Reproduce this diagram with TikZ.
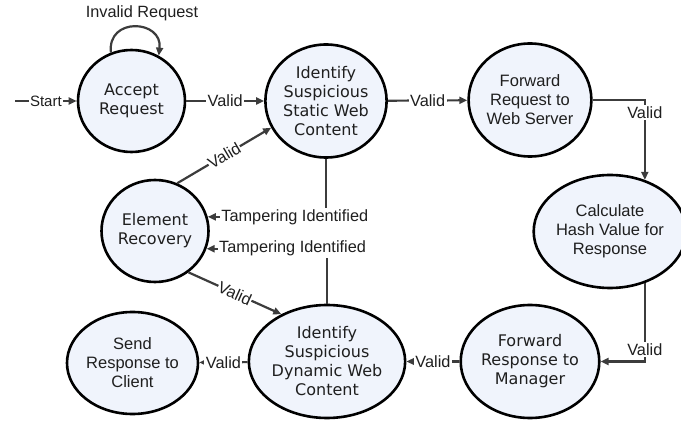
\documentclass[tikz,border=0pt]{standalone}
\usepackage{fontspec}
\setmainfont{Liberation Sans}
\newfontfamily\dvfont{DejaVu Sans}
\usetikzlibrary{shapes.geometric,arrows.meta}
\definecolor{nodefill}{RGB}{240,244,252}
\definecolor{linegray}{RGB}{60,60,60}
\begin{document}
\begin{tikzpicture}[x=1pt,y=-1pt,
  state/.style={ellipse, draw=black, line width=2.6pt, fill=nodefill, align=center, inner sep=0pt, text=black!88},
  small/.style={minimum width=107pt, minimum height=102pt},
  big/.style={minimum width=116pt, minimum height=113pt},
  dv/.style={font=\dvfont\fontsize{16}{19}\selectfont},
  ar/.style={font=\fontsize{16.5}{19}\selectfont},
  lbl/.style={fill=white, inner sep=1.5pt, text=black!88, font=\fontsize{16.3}{18}\selectfont},
  conn/.style={draw=linegray, line width=2.2pt, -{Triangle[length=8pt,width=7pt]}}
]
\useasboundingbox (0,0) rectangle (681,422);
\node[state,small,dv] (acc) at (131.5,101) {Accept\\Request};
\node[state,big,dv] (st) at (326,101) {Identify\\Suspicious\\Static Web\\Content};
\node[state,big,ar] (fq) at (530,100) {Forward\\Request to\\Web Server};
\node[state,small,dv] (er) at (155,231) {Element\\Recovery};
\node[state,big,ar] (hash) at (610,231.5) {Calculate\\Hash Value for\\Response};
\node[state,small,ar] (send) at (132.5,363) {Send\\Response to\\Client};
\node[state,big,dv] (dyn) at (327,361.5) {Identify\\Suspicious\\Dynamic Web\\Content};
\node[state,big,dv] (fr) at (530,361.5) {Forward\\Response to\\Manager};
\coordinate (start) at (15,101);

\draw[conn] (start) -- node[lbl, font=\fontsize{15}{17}\selectfont] {Start} (acc);
\draw[conn] (acc.113) .. controls +(-4,-36) and +(4,-36) .. (acc.59);
\node[lbl, fill=none] (inv) at (142,13) {Invalid Request};
\draw[conn] (acc) -- node[lbl] {Valid} (st);
\draw[conn] (st) -- node[lbl] {Valid} (fq);
\draw[conn] (fq.east) -| node[lbl, pos=0.578] {Valid} (hash.56);
\draw[conn] (hash.-56) |- node[lbl, pos=0.425] {Valid} (fr.east);
\draw[conn] (fr) -- node[lbl] {Valid} (dyn);
\draw[conn] (dyn) -- node[lbl] {Valid} (send);
\draw[conn] (er.65) -- node[lbl, sloped, inner sep=0.5pt] {Valid} (st.206);
\draw[conn] (er.-51) -- node[lbl, sloped, inner sep=0.5pt] {Valid} (dyn.134);
\draw[conn] (st.south) |- node[lbl, pos=0.632] {Tampering Identified} (er.15);
\draw[conn] (dyn.north) |- node[lbl, pos=0.643] {Tampering Identified} (er.-19);
\end{tikzpicture}
\end{document}
